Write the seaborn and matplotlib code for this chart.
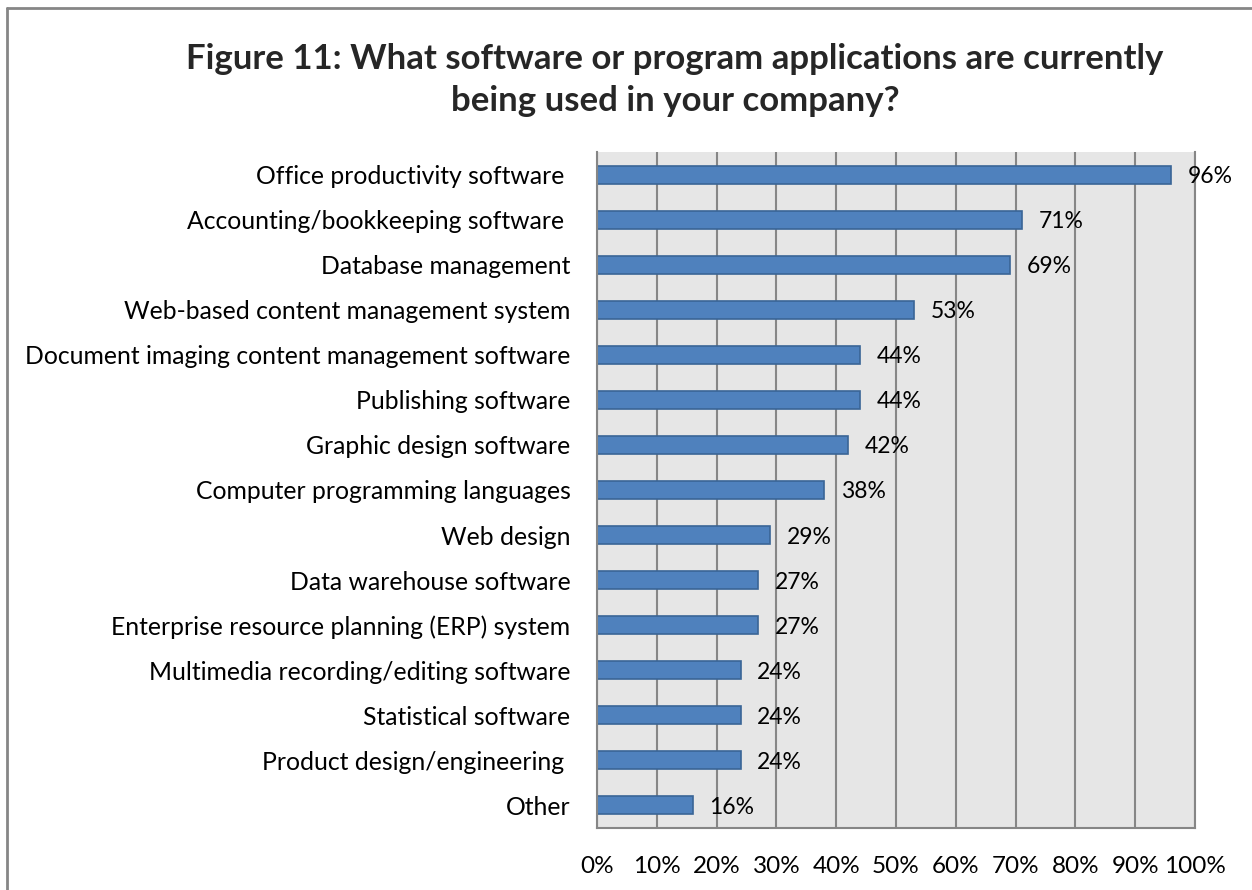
import pandas as pd
import matplotlib.pyplot as plt
import seaborn as sns
from matplotlib.lines import Line2D

# Data
categories = [
    'Office productivity software ', 'Accounting/bookkeeping software ',
    'Database management', 'Web-based content management system',
    'Document imaging content management software', 'Publishing software',
    'Graphic design software', 'Computer programming languages',
    'Web design', 'Data warehouse software',
    'Enterprise resource planning (ERP) system',
    'Multimedia recording/editing software', 'Statistical software',
    'Product design/engineering ', 'Other'
]
values = [96, 71, 69, 53, 44, 44, 42, 38, 29, 27, 27, 24, 24, 24, 16]
ticks = [0, 10, 20, 30, 40, 50, 60, 70, 80, 90, 100]
tick_labels = [f'{t}%' for t in ticks]

data = pd.DataFrame({'Software': categories, 'Share': values})

sns.set_theme(style="white")
plt.rcParams['font.family'] = ['Lato', 'DejaVu Sans']

fig = plt.figure(figsize=(12.52, 8.9), dpi=100)
ax = fig.add_axes([597 / 1252, 1 - 828 / 890, 598 / 1252, 676 / 890])
ax.set_facecolor('#E6E6E6')

sns.barplot(data=data, x='Share', y='Software', orient='h', color='#4F81BD',
            saturation=1, width=0.4, edgecolor='#3A6596', linewidth=1.2, ax=ax)

# value labels right of each bar
for i, v in enumerate(values):
    ax.text(v + 2.8, i, f'{v}%', va='center_baseline', ha='left', fontsize=16.5, color='black')

ax.set_xlim(0, 100)
ax.set_ylim(14.5, -0.5)
ax.set_xticks(ticks)
ax.set_xticklabels(tick_labels)
ax.xaxis.grid(True, color='#868686', linewidth=1.5)
ax.set_axisbelow(True)
ax.tick_params(axis='x', length=0, pad=20.5, labelsize=17.5, colors='black')
ax.tick_params(axis='y', length=0, pad=19, labelsize=17.8, colors='black')
ax.set_xlabel('')
ax.set_ylabel('')
for side in ['left', 'bottom', 'right']:
    ax.spines[side].set_color('#868686')
    ax.spines[side].set_linewidth(1.5)
ax.spines['top'].set_visible(False)

fig.text(675 / 1252, 1 - 80 / 890,
         'Figure 11: What software or program applications are currently\nbeing used in your company?',
         ha='center', va='center', fontsize=25, fontweight='bold', linespacing=1.4)

# Chart frame
fig.add_artist(Line2D([7 / 1252, 7 / 1252], [0, 1 - 7.5 / 890], color='#868686', linewidth=2))
fig.add_artist(Line2D([7 / 1252, 1], [1 - 7.5 / 890, 1 - 7.5 / 890], color='#868686', linewidth=2))

fig.savefig('out.png', dpi=100)
